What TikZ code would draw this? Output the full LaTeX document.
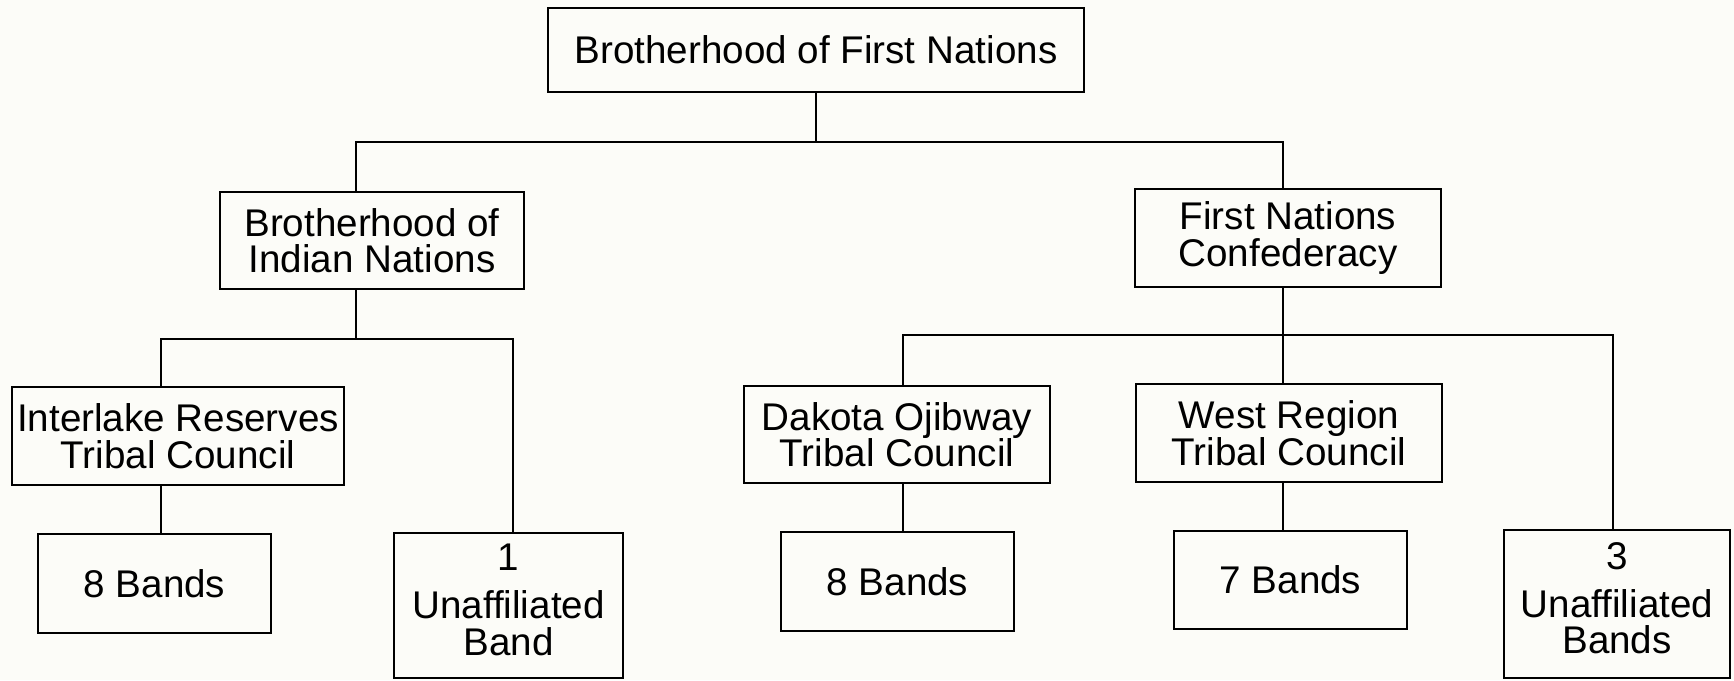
\documentclass[tikz,border=0pt]{standalone}
\usepackage{fontspec}
\setmainfont{Liberation Sans}
\usepackage{tikz}
\definecolor{paper}{RGB}{252,252,248}
\tikzset{%
  orgbox/.style={draw=black, line width=1.3pt, inner sep=0pt, align=center,
    font=\fontsize{19.3}{18.2}\selectfont},
  link/.style={black, line width=1.2pt}
}
\newcommand{\lowpad}{\rule[-6pt]{0pt}{6pt}}

\begin{document}
\begin{tikzpicture}[x=0.5pt,y=-0.5pt]
    \fill[paper] (0,0) rectangle (1734,680);
    \useasboundingbox (0,0) rectangle (1734,680);
    % boxes
    \node[orgbox, minimum width=268pt, minimum height=42pt] (top) at (816,50) {Brotherhood of First Nations};
    \node[orgbox, minimum width=152pt, minimum height=48.5pt] (bin) at (372,240.5) {Brotherhood of\\Indian Nations};
    \node[orgbox, minimum width=153pt, minimum height=49pt] (fnc) at (1288,238) {First Nations\\Confederacy};
    \node[orgbox, minimum width=166pt, minimum height=49pt] (irtc) at (178,436) {Interlake Reserves\\Tribal Council};
    \node[orgbox, minimum width=116.5pt, minimum height=49.5pt] (bandsA) at (154.5,583.5) {8 Bands};
    \node[orgbox, minimum width=114.5pt, minimum height=72.5pt] (unaffA) at (508.5,605.5) {1\\[6pt]Unaffiliated\\Band\lowpad};
    \node[orgbox, minimum width=153pt, minimum height=48.5pt] (dotc) at (897,434.5) {Dakota Ojibway\\Tribal Council};
    \node[orgbox, minimum width=116.5pt, minimum height=49.5pt] (bandsB) at (897.5,581.5) {8 Bands};
    \node[orgbox, minimum width=153pt, minimum height=49pt] (wrtc) at (1289,433) {West Region\\Tribal Council};
    \node[orgbox, minimum width=116.5pt, minimum height=49pt] (bandsC) at (1290.5,580) {7 Bands};
    \node[orgbox, minimum width=113pt, minimum height=74pt] (unaffB) at (1617,604) {3\\[6pt]Unaffiliated\\Bands\lowpad};
    % junctions
    \coordinate (jL) at (356,142);
    \coordinate (jR) at (1283,142);
    \coordinate (kL) at (161,339);
    \coordinate (kR) at (513,339);
    \coordinate (mL) at (903,335);
    \coordinate (mR) at (1613,335);
    % connectors
    \draw[link] (top.south) -- (top.south |- jL);
    \draw[link] (bin.north -| jL) -- (jL) -- (jR) -- (fnc.north -| jR);
    \draw[link] (bin.south -| jL) -- (jL |- kL);
    \draw[link] (irtc.north -| kL) -- (kL) -- (kR) -- (unaffA.north -| kR);
    \draw[link] (irtc.south -| kL) -- (bandsA.north -| kL);
    \draw[link] (fnc.south -| jR) -- (wrtc.north -| jR);
    \draw[link] (dotc.north -| mL) -- (mL) -- (mR) -- (unaffB.north -| mR);
    \draw[link] (dotc.south -| mL) -- (bandsB.north -| mL);
    \draw[link] (wrtc.south -| jR) -- (bandsC.north -| jR);
\end{tikzpicture}
\end{document}
